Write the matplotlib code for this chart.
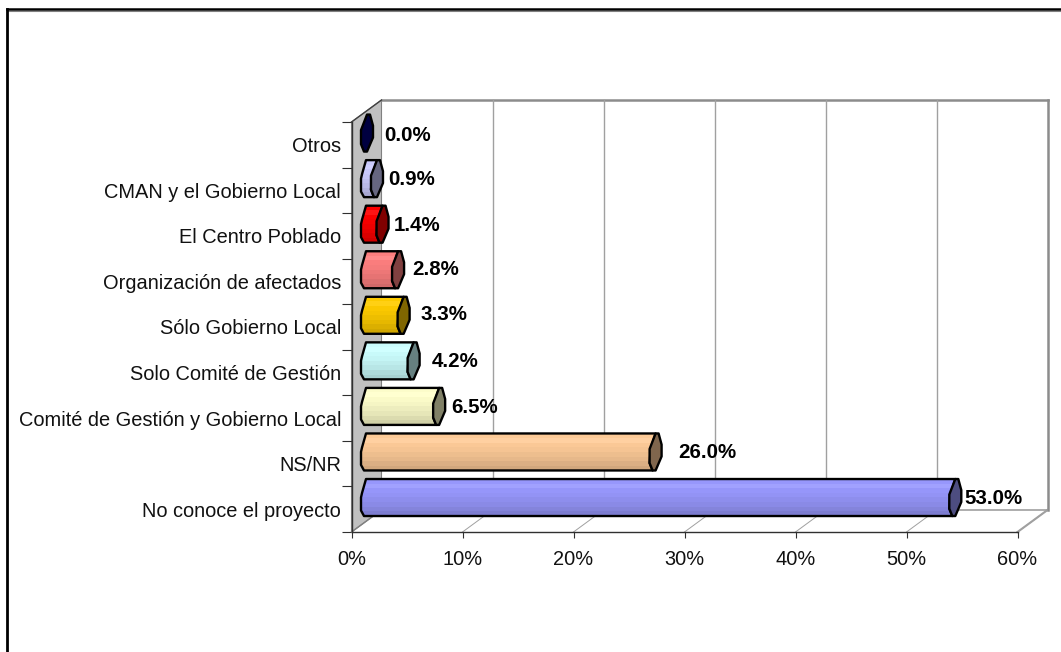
#!/usr/bin/python3
import matplotlib
matplotlib.use('Agg')
import matplotlib.pyplot as plt
from matplotlib.colors import to_rgb
from matplotlib.lines import Line2D
from matplotlib.patches import Polygon
from matplotlib.transforms import ScaledTranslation

plt.rcParams['font.family'] = ['Liberation Sans', 'DejaVu Sans']

# bottom to top, the way the chart stacks them
categories = ['No conoce el proyecto', 'NS/NR', 'Comité de Gestión y Gobierno Local',
              'Solo Comité de Gestión', 'Sólo Gobierno Local', 'Organización de afectados',
              'El Centro Poblado', 'CMAN y el Gobierno Local', 'Otros']
values = [53.0, 26.0, 6.5, 4.2, 3.3, 2.8, 1.4, 0.9, 0.0]
bar_colors = ['#9999FF', '#FFCC99', '#FFFFCC', '#CCFFFF', '#FFCC00',
              '#FF8080', '#FF0000', '#CCCCFF', '#000080']
x_ticks = [0, 10, 20, 30, 40, 50, 60]

# label nudges in pixels, the labels are placed by hand in the original
label_gap = [3, 17, 6, 12, 11, 8, 5, 5, 11]
label_dy = [-1, -1, -1, -1, 1, 0, -1, -1, -2]

W, H = 1061, 652
LEFT, RIGHT, TOP, BOTTOM = 351.5, 1017.5, 122, 532
PX = 60 / (RIGHT - LEFT)
PY = 9 / (BOTTOM - TOP)
DEPTH_X, DEPTH_Y = 30 * PX, 22 * PY

fig = plt.figure(figsize=(W / 100, H / 100), dpi=100, facecolor='white')
ax = fig.add_axes([LEFT / W, 1 - BOTTOM / H, (RIGHT - LEFT) / W, (BOTTOM - TOP) / H])
ax.set_xlim(0, 60)
ax.set_ylim(0, 9)
ax.patch.set_visible(False)
for s in ax.spines.values():
    s.set_visible(False)


def shade(color, f):
    rgb = to_rgb(color)
    if f > 1:
        return tuple(c + (1 - c) * (f - 1) for c in rgb)
    return tuple(c * f for c in rgb)


# walls and floor
wall_gray = '#A0A0A0'
edge_gray = '#8C8C8C'
ax.add_patch(Polygon([(0, 0), (DEPTH_X, DEPTH_Y), (DEPTH_X, 9 + DEPTH_Y), (0, 9)],
                     fc='#C0C0C0', ec='#808080', lw=0.8, clip_on=False, zorder=1))
ax.plot([DEPTH_X, 60 + DEPTH_X], [9 + DEPTH_Y, 9 + DEPTH_Y], color=edge_gray, lw=1.8, clip_on=False, zorder=1)
ax.plot([DEPTH_X, 60 + DEPTH_X], [DEPTH_Y, DEPTH_Y], color=wall_gray, lw=1.2, clip_on=False, zorder=1)
ax.plot([60, 60 + DEPTH_X], [0, DEPTH_Y], color=wall_gray, lw=1.5, clip_on=False, zorder=1)
for t in x_ticks[1:]:
    ax.plot([t + DEPTH_X, t + DEPTH_X], [DEPTH_Y, 9 + DEPTH_Y],
            color=edge_gray if t == 60 else wall_gray, lw=1.8 if t == 60 else 1.0, clip_on=False, zorder=1)
    ax.plot([t, t + DEPTH_X], [0, DEPTH_Y], color=wall_gray, lw=0.7, clip_on=False, zorder=1)
ax.plot([0, DEPTH_X], [9, 9 + DEPTH_Y], color='#404040', lw=1.0, clip_on=False, zorder=2)
ax.plot([0, DEPTH_X], [0, DEPTH_Y], color='#808080', lw=1.0, clip_on=False, zorder=2)
ax.plot([0, 60], [0, 0], color='#303030', lw=1.0, clip_on=False, zorder=2)
ax.plot([0, 0], [0, 9], color='#303030', lw=1.0, clip_on=False, zorder=2)

# bars, a stack of thin shaded strips clipped to the cylinder outline
band_factors = [0.99, 1.08, 0.98, 0.96, 0.93, 0.9, 0.86, 0.82]
bar_h = 37 * PY
start = 9.5 * PX
for i, (val, col) in enumerate(zip(values, bar_colors)):
    mid = i + 0.5 + 11.7 * PY
    top, bot = mid + bar_h / 2, mid - bar_h / 2
    end = start + val
    outline = [(start + 5 * PX, top), (end + 6 * PX, top), (end + 1 * PX, top - 0.42 * bar_h),
               (end, bot + 0.2 * bar_h), (end + 3 * PX, bot), (start + 3 * PX, bot),
               (start, bot + 0.15 * bar_h), (start, top - 0.5 * bar_h), (start + 1 * PX, top - 0.38 * bar_h)]
    if val > 0:
        body = Polygon(outline, fc='none', ec='none', clip_on=False, zorder=3)
        ax.add_patch(body)
        band = bar_h / len(band_factors)
        for k, f in enumerate(band_factors):
            rects = ax.barh(top - (k + 0.5) * band, end + 7 * PX - start, height=band * 1.03, left=start,
                            color=shade(col, f), lw=0, zorder=3)
            for r in rects:
                r.set_clip_box(None)
                r.set_clip_path(body)
        ax.add_patch(Polygon(outline, fc='none', ec='black', lw=1.7, clip_on=False, zorder=4, joinstyle='round'))
    cap = [(end + 6 * PX, top), (end + 9 * PX, top), (end + 12 * PX, top - 0.3 * bar_h),
           (end + 12 * PX, top - 0.62 * bar_h), (end + 6 * PX, bot), (end + 3 * PX, bot),
           (end, bot + 0.2 * bar_h), (end, top - 0.42 * bar_h)]
    ax.add_patch(Polygon(cap, fc=shade(col, 0.5), ec='black', lw=1.7, clip_on=False, zorder=5, joinstyle='round'))
    ax.text(end + (12 + label_gap[i]) * PX, mid + label_dy[i] * PY, '%.1f%%' % val,
            ha='left', va='center', fontsize=14.8, fontweight='bold', color='black', zorder=6)

# axes ticks and text
ax.set_xticks(x_ticks)
ax.set_xticklabels(['%d%%' % t for t in x_ticks], fontsize=14.4, color='#111111')
ax.tick_params(axis='x', length=4.3, width=0.8, color='#303030', pad=8.5)
ax.set_yticks([i + 0.5 for i in range(len(categories))])
ax.set_yticklabels(categories, fontsize=14.4, color='#111111')
for lab in ax.get_yticklabels():
    lab.set_transform(lab.get_transform() + ScaledTranslation(0, 1.2 / 72, fig.dpi_scale_trans))
ax.tick_params(axis='y', which='major', length=0, pad=7.5)
ax.set_yticks(range(len(categories) + 1), minor=True)
ax.tick_params(axis='y', which='minor', length=7, width=0.8, color='#303030')

# outer frame, only top and left fall inside the picture
fig.add_artist(Line2D([7 / W, 1], [1 - 10.5 / H, 1 - 10.5 / H], color='#808080', lw=0.8))
fig.add_artist(Line2D([7 / W, 1], [1 - 9 / H, 1 - 9 / H], color='black', lw=1.8))
fig.add_artist(Line2D([7 / W, 7 / W], [0, 1 - 9 / H], color='black', lw=2.0))

fig.savefig('out.png', dpi=100)
